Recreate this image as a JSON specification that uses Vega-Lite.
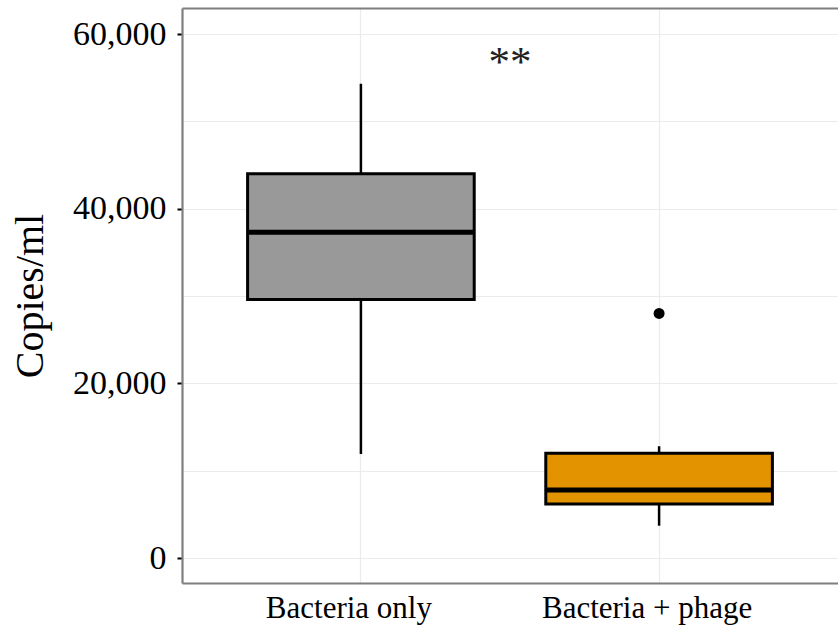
{
  "$schema": "https://vega.github.io/schema/vega-lite/v6.json",
  "width": 656,
  "height": 575,
  "autosize": {"type": "none"},
  "padding": {"left": 182, "top": 8, "right": 0, "bottom": 45},
  "background": "white",
  "config": {
    "view": {"stroke": null},
    "font": "Liberation Serif",
    "axis": {"gridColor": "#ebebeb", "gridWidth": 1.2}
  },
  "datasets": {
    "boxes": [
      {"group": "Bacteria only", "lower": 11900, "q1": 29600, "median": 37300, "q3": 44000, "upper": 54300},
      {"group": "Bacteria + phage", "lower": 3700, "q1": 6200, "median": 7800, "q3": 12000, "upper": 12800}
    ],
    "outliers": [
      {"group": "Bacteria + phage", "value": 28000}
    ],
    "signif": [
      {"group": "Bacteria only", "label": "**", "y": 57000}
    ]
  },
  "layer": [
    {
      "data": {"name": "boxes"},
      "mark": {"type": "rule", "color": "black", "strokeWidth": 2.5},
      "encoding": {
        "x": {
          "field": "group", "type": "nominal", "sort": ["Bacteria only", "Bacteria + phage"],
          "scale": {"paddingInner": 0, "paddingOuter": 0.1},
          "axis": {
            "title": null, "orient": "bottom", "grid": true, "ticks": false,
            "domain": true, "domainColor": "#7f7f7f", "domainWidth": 2.2,
            "labelAngle": 0, "labelFontSize": 31, "labelColor": "black",
            "labelPadding": 10, "labelFont": "Liberation Serif", "labelLimit": 0,
            "labelOffset": -12
          }
        },
        "y": {
          "field": "lower", "type": "quantitative",
          "scale": {"domain": [-2860, 62980], "nice": false, "zero": false},
          "axis": {
            "title": "Copies/ml", "titleFontSize": 40, "titleFontWeight": "normal",
            "titleColor": "black", "titlePadding": 22, "titleFont": "Liberation Serif",
            "values": [0, 10000, 20000, 30000, 40000, 50000, 60000],
            "labelExpr": "datum.value % 20000 === 0 ? format(datum.value, ',') : ''",
            "tickOpacity": {"condition": {"test": "datum.value % 20000 !== 0", "value": 0}, "value": 1},
            "tickColor": "black", "tickSize": 5, "tickWidth": 2,
            "labelFontSize": 34, "labelColor": "black", "labelPadding": 11,
            "domain": true, "domainColor": "#7f7f7f", "domainWidth": 2.2,
            "grid": true
          }
        },
        "y2": {"field": "upper"}
      }
    },
    {
      "data": {"name": "boxes"},
      "mark": {"type": "bar", "stroke": "black", "strokeWidth": 3, "width": {"band": 0.76}},
      "encoding": {
        "x": {"field": "group", "type": "nominal", "sort": ["Bacteria only", "Bacteria + phage"], "axis": null},
        "y": {"field": "q1", "type": "quantitative"},
        "y2": {"field": "q3"},
        "fill": {
          "field": "group", "type": "nominal",
          "scale": {"domain": ["Bacteria only", "Bacteria + phage"], "range": ["#999999", "#E39200"]},
          "legend": null
        }
      }
    },
    {
      "data": {"name": "boxes"},
      "mark": {"type": "tick", "color": "black", "thickness": 5, "size": 226, "opacity": 1},
      "encoding": {
        "x": {"field": "group", "type": "nominal", "sort": ["Bacteria only", "Bacteria + phage"], "axis": null},
        "y": {"field": "median", "type": "quantitative"}
      }
    },
    {
      "data": {"name": "outliers"},
      "mark": {"type": "circle", "color": "black", "size": 120, "opacity": 1},
      "encoding": {
        "x": {"field": "group", "type": "nominal", "sort": ["Bacteria only", "Bacteria + phage"], "axis": null},
        "y": {"field": "value", "type": "quantitative"}
      }
    },
    {
      "data": {"name": "signif"},
      "mark": {"type": "text", "fontSize": 43, "color": "#222", "baseline": "middle", "align": "center", "dy": 3},
      "encoding": {
        "x": {"field": "group", "type": "nominal", "sort": ["Bacteria only", "Bacteria + phage"], "bandPosition": 1, "axis": null},
        "y": {"field": "y", "type": "quantitative"},
        "text": {"field": "label"}
      }
    },
    {
      "data": {"name": "signif"},
      "mark": {"type": "text", "opacity": 0},
      "encoding": {
        "x": {
          "field": "group", "type": "nominal", "sort": ["Bacteria only", "Bacteria + phage"],
          "axis": {"orient": "top", "labels": false, "ticks": false, "title": null, "grid": false,
                   "domain": true, "domainColor": "#7f7f7f", "domainWidth": 2.2}
        },
        "y": {"field": "y", "type": "quantitative"},
        "text": {"field": "label"}
      }
    }
  ],
  "resolve": {"axis": {"x": "independent"}}
}
